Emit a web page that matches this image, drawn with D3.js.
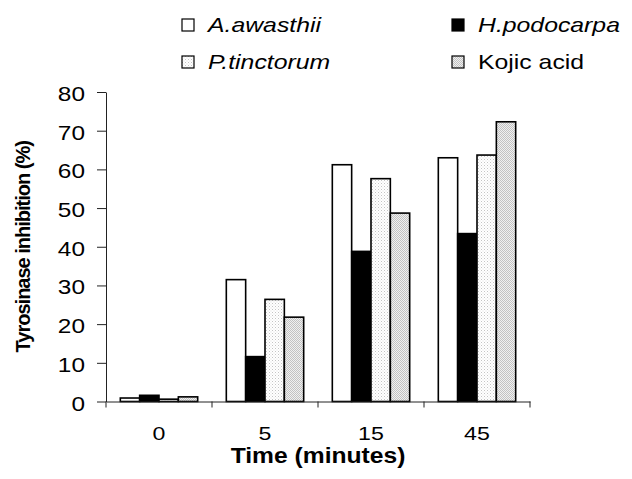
<!DOCTYPE html>
<html>
<head>
<meta charset="utf-8">
<script src="https://cdn.jsdelivr.net/npm/d3@7"></script>
<style>
  body { margin: 0; background: #fff; }
  svg { display: block; font-family: "Liberation Sans", Arial, sans-serif; }
</style>
</head>
<body>
<div id="chart"></div>
<script>
// === data ===
const times = ["0", "5", "15", "45"];
const seriesNames = ["A.awasthii", "H.podocarpa", "P.tinctorum", "Kojic acid"];
const aAwasthii = [0.9, 31.5, 61.2, 63.0];
const hPodocarpa = [1.6, 11.6, 38.8, 43.4];
const pTinctorum = [0.6, 26.4, 57.6, 63.7];
const kojicAcid = [1.2, 21.8, 48.7, 72.3];
const yTicks = [0, 10, 20, 30, 40, 50, 60, 70, 80];

const seriesValues = [aAwasthii, hPodocarpa, pTinctorum, kojicAcid];

const width = 632, height = 479;
const margin = { top: 92, right: 102, bottom: 78, left: 106 };

const svg = d3.select("#chart").append("svg")
  .attr("width", width)
  .attr("height", height);

// === fill patterns ===
const defs = svg.append("defs");
const dots = defs.append("pattern")
  .attr("id", "dots")
  .attr("width", 3).attr("height", 3)
  .attr("patternUnits", "userSpaceOnUse");
dots.append("rect").attr("width", 3).attr("height", 3).attr("fill", "#fff");
dots.append("rect").attr("width", 1).attr("height", 1).attr("fill", "#c4c4c4");
dots.append("rect").attr("x", 1.5).attr("y", 1.5).attr("width", 1).attr("height", 1).attr("fill", "#dedede");

const checker = defs.append("pattern")
  .attr("id", "checker")
  .attr("width", 2).attr("height", 2)
  .attr("patternUnits", "userSpaceOnUse");
checker.append("rect").attr("width", 2).attr("height", 2).attr("fill", "#f0f0f0");
checker.append("rect").attr("width", 1).attr("height", 1).attr("fill", "#c2c2c2");
checker.append("rect").attr("x", 1).attr("y", 1).attr("width", 1).attr("height", 1).attr("fill", "#c2c2c2");

const fills = ["#fff", "#000", "url(#dots)", "url(#checker)"];

// === scales ===
const x = d3.scaleBand()
  .domain(times)
  .range([margin.left, width - margin.right])
  .padding(0);

const xInner = d3.scaleBand()
  .domain(seriesNames)
  .range([0, x.bandwidth()])
  .paddingInner(0)
  .paddingOuter(0.74);

const y = d3.scaleLinear()
  .domain([0, 80])
  .range([height - margin.bottom + 0.5, margin.top]);

// === bars ===
const groups = svg.append("g")
  .selectAll("g")
  .data(times)
  .join("g")
  .attr("transform", d => `translate(${x(d)},0)`);

groups.selectAll("rect")
  .data((t, i) => seriesNames.map((s, k) => ({ s, k, v: seriesValues[k][i] })))
  .join("rect")
  .attr("x", d => xInner(d.s))
  .attr("y", d => y(d.v))
  .attr("width", xInner.bandwidth())
  .attr("height", d => y(0) - y(d.v))
  .attr("fill", d => fills[d.k])
  .attr("stroke", "#000")
  .attr("stroke-width", 1.6);

// === y axis ===
const yAxis = svg.append("g")
  .attr("transform", `translate(${margin.left},0)`)
  .call(d3.axisLeft(y).tickValues(yTicks).tickSize(9).tickSizeOuter(0).tickPadding(0));

yAxis.select(".domain").attr("stroke", "#222");
yAxis.selectAll(".tick line").attr("stroke", "#222");
yAxis.selectAll(".tick text")
  .attr("x", 0).attr("dy", null)
  .attr("transform", "translate(-21,8.5) scale(1.22,1)")
  .attr("fill", "#000")
  .style("font-size", "20px")
  .style("font-family", "'Liberation Sans', Arial, sans-serif");

// === x axis ===
const xAxis = svg.append("g")
  .attr("transform", `translate(0,${y(0)})`)
  .call(d3.axisBottom(x).tickSize(0).tickSizeOuter(0).tickPadding(0));

xAxis.select(".domain").attr("stroke", "#222");
xAxis.selectAll(".tick text")
  .attr("y", 0).attr("dy", null)
  .attr("transform", "translate(0,38) scale(1.22,1)")
  .attr("fill", "#000")
  .style("font-size", "19px")
  .style("font-family", "'Liberation Sans', Arial, sans-serif");

// tick marks sit on the category boundaries
xAxis.append("g")
  .selectAll("line")
  .data([...times.map(t => x(t)), x.range()[1]])
  .join("line")
  .attr("x1", d => d).attr("x2", d => d)
  .attr("y1", 0).attr("y2", 6)
  .attr("stroke", "#222");

// === axis titles ===
svg.append("text")
  .attr("transform", `translate(30,${(y(0) + y(80)) / 2}) rotate(-90)`)
  .attr("text-anchor", "middle")
  .style("font-size", "20px")
  .style("font-weight", "bold")
  .style("letter-spacing", "-1px")
  .text("Tyrosinase inhibition (%)");

svg.append("text")
  .attr("transform", `translate(${(x.range()[0] + x.range()[1]) / 2},463) scale(1.12,1)`)
  .attr("text-anchor", "middle")
  .style("font-size", "22px")
  .style("font-weight", "bold")
  .text("Time (minutes)");

// === legend ===
const legendCols = [182, 452];
const legendRows = [25, 62];
const legend = svg.append("g")
  .selectAll("g")
  .data(seriesNames)
  .join("g")
  .attr("transform", (d, i) => `translate(${legendCols[i % 2]},${legendRows[Math.floor(i / 2)]})`);

legend.append("rect")
  .attr("x", 0).attr("y", -6)
  .attr("width", 12).attr("height", 12)
  .attr("fill", (d, i) => fills[i])
  .attr("stroke", "#000")
  .attr("stroke-width", 1.2);

legend.append("text")
  .attr("transform", "translate(26,7) scale(1.24,1)")
  .style("font-size", "20px")
  .style("font-style", (d, i) => i === 3 ? "normal" : "italic")
  .text(d => d);
</script>
</body>
</html>
